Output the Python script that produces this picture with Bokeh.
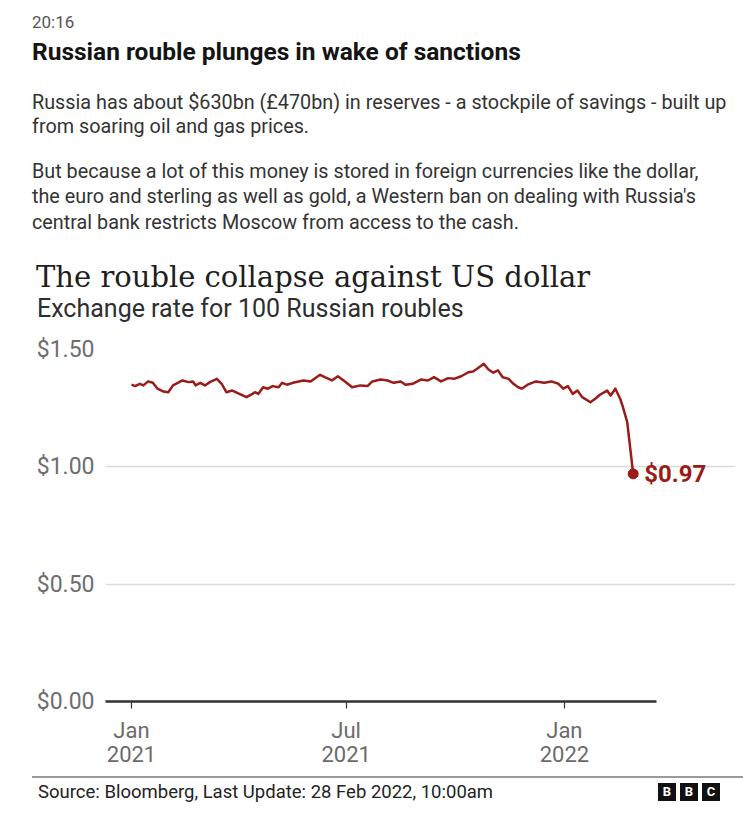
import pandas as pd
from bokeh.plotting import figure
from bokeh.models import Label, FixedTicker, NumeralTickFormatter, Div, Range1d, LinearAxis
from bokeh.layouts import column
from bokeh.embed import file_html
from bokeh.resources import INLINE

# ---------------- data ----------------
dates = [
    "2021-01-01", "2021-01-04", "2021-01-08", "2021-01-11", "2021-01-15", "2021-01-19",
    "2021-01-23", "2021-01-28", "2021-02-01", "2021-02-05", "2021-02-13", "2021-02-18",
    "2021-02-22", "2021-02-24", "2021-02-28", "2021-03-04", "2021-03-08", "2021-03-14",
    "2021-03-18", "2021-03-22", "2021-03-27", "2021-04-02", "2021-04-08", "2021-04-13",
    "2021-04-15", "2021-04-18", "2021-04-22", "2021-04-26", "2021-04-30", "2021-05-05",
    "2021-05-08", "2021-05-12", "2021-05-17", "2021-05-26", "2021-06-01", "2021-06-09",
    "2021-06-13", "2021-06-19", "2021-06-24", "2021-06-30", "2021-07-06", "2021-07-13",
    "2021-07-19", "2021-07-23", "2021-07-30", "2021-08-05", "2021-08-10", "2021-08-16",
    "2021-08-20", "2021-08-26", "2021-09-02", "2021-09-08", "2021-09-13", "2021-09-19",
    "2021-09-25", "2021-09-30", "2021-10-06", "2021-10-12", "2021-10-16", "2021-10-20",
    "2021-10-25", "2021-10-29", "2021-11-02", "2021-11-06", "2021-11-10", "2021-11-15",
    "2021-11-19", "2021-11-23", "2021-11-26", "2021-12-01", "2021-12-08", "2021-12-15",
    "2021-12-21", "2021-12-27", "2021-12-31", "2022-01-04", "2022-01-08", "2022-01-12",
    "2022-01-16", "2022-01-23", "2022-01-27", "2022-01-31", "2022-02-06", "2022-02-09",
    "2022-02-13", "2022-02-17", "2022-02-19", "2022-02-21", "2022-02-23", "2022-02-28",
]
rate_usd = [
    1.350, 1.344, 1.354, 1.347, 1.364, 1.358,
    1.333, 1.321, 1.318, 1.347, 1.368, 1.361,
    1.364, 1.347, 1.358, 1.347, 1.361, 1.375,
    1.354, 1.318, 1.325, 1.311, 1.297, 1.311,
    1.318, 1.311, 1.339, 1.333, 1.344, 1.339,
    1.358, 1.350, 1.358, 1.368, 1.364, 1.392,
    1.382, 1.368, 1.386, 1.364, 1.339, 1.347,
    1.344, 1.364, 1.372, 1.368, 1.358, 1.364,
    1.350, 1.354, 1.372, 1.368, 1.382, 1.364,
    1.378, 1.375, 1.386, 1.403, 1.406, 1.420,
    1.439, 1.415, 1.401, 1.411, 1.382, 1.375,
    1.354, 1.339, 1.333, 1.350, 1.364, 1.358,
    1.364, 1.354, 1.333, 1.344, 1.311, 1.325,
    1.297, 1.275, 1.290, 1.307, 1.325, 1.304,
    1.333, 1.290, 1.261, 1.226, 1.190, 0.970,
]
tick_dates = ["2021-01-01", "2021-07-01", "2022-01-01"]
tick_months = ["Jan", "Jul", "Jan"]
tick_years = ["2021", "2021", "2022"]
y_ticks = [0.0, 0.5, 1.0, 1.5]
last_label = "$0.97"

time_label = "20:16"
headline = "Russian rouble plunges in wake of sanctions"
para_lines = [
    "Russia has about $630bn (£470bn) in reserves - a stockpile of savings - built up",
    "from soaring oil and gas prices.",
    "But because a lot of this money is stored in foreign currencies like the dollar,",
    "the euro and sterling as well as gold, a Western ban on dealing with Russia's",
    "central bank restricts Moscow from access to the cash.",
]
chart_title = "The rouble collapse against US dollar"
chart_subtitle = "Exchange rate for 100 Russian roubles"
source_text = "Source: Bloomberg, Last Update: 28 Feb 2022, 10:00am"

# ---------------- derived ----------------
origin = pd.Timestamp("2021-01-01")
days = [(pd.Timestamp(d) - origin).days for d in dates]
tick_days = [(pd.Timestamp(d) - origin).days for d in tick_dates]

RED = "#9b1b17"
SANS = "Roboto"
PAGE_W = 743

# ---------------- header (HTML) ----------------
def hline(text, left, center, size, color, lh, weight=400, family=SANS):
    top = center - lh / 2
    return (f'<div style="position:absolute;left:{left}px;top:{top}px;line-height:{lh}px;'
            f'font-family:\'{family}\';font-size:{size}px;font-weight:{weight};color:{color};'
            f'white-space:nowrap;">{text}</div>')

HEADER_H = 330
hdr = [hline(time_label, 32, 22, 17, "#555555", 20),
       hline(headline, 32, 52, 24.5, "#141414", 30, weight=700)]
for t, c in zip(para_lines, [103, 127, 172, 197, 223]):
    hdr.append(hline(t, 32, c, 19.8, "#333333", 24))
hdr.append(hline(chart_title, 36, 277, 29, "#1e1e1e", 36, family="DejaVu Serif"))
hdr.append(hline(chart_subtitle, 37, 309, 25, "#2e2e2e", 30))
header = Div(width=PAGE_W, height=HEADER_H, margin=(0, 0, 0, 0),
             text=f'<div style="position:relative;width:{PAGE_W}px;height:{HEADER_H}px;">'
                  + "".join(hdr) + "</div>")

# ---------------- chart ----------------
FIG_TOP = HEADER_H
FRAME_L, FRAME_R, FRAME_T, FRAME_B = 105, 735, 349, 701
AXIS_END = 656
FIG_H = 438
PX_PER_DAY = 1.186
DAY0_PX = 131
X0 = (FRAME_L - DAY0_PX) / PX_PER_DAY
X1 = (FRAME_R - DAY0_PX) / PX_PER_DAY
XB = (AXIS_END - DAY0_PX) / PX_PER_DAY

p = figure(width=PAGE_W, height=FIG_H, output_backend="svg", toolbar_location=None,
           x_range=Range1d(X0, X1), y_range=Range1d(0, 1.5),
           min_border_left=FRAME_L, min_border_right=PAGE_W - FRAME_R,
           min_border_top=FRAME_T - FIG_TOP,
           min_border_bottom=FIG_TOP + FIG_H - FRAME_B)
p.outline_line_color = None
p.background_fill_color = "white"
p.border_fill_color = "white"

p.xaxis.ticker = FixedTicker(ticks=tick_days)
p.xaxis.major_label_overrides = dict(zip(tick_days, tick_months))
p.xaxis.bounds = (X0, XB)
p.xaxis.axis_line_color = "#333333"
p.xaxis.axis_line_width = 2.5
p.xaxis.major_tick_line_color = "#333333"
p.xaxis.major_tick_line_width = 1.2
p.xaxis.major_tick_out = 7
p.xaxis.major_tick_in = 0
p.xaxis.minor_tick_line_color = None
p.xaxis.major_label_text_font = SANS
p.xaxis.major_label_text_font_size = "22px"
p.xaxis.major_label_text_color = "#6b6b6b"
p.xaxis.major_label_standoff = 9

year_axis = LinearAxis(ticker=FixedTicker(ticks=tick_days),
                       major_label_overrides=dict(zip(tick_days, tick_years)),
                       axis_line_color=None, major_tick_line_color=None,
                       minor_tick_line_color=None, major_tick_out=0, major_tick_in=0,
                       major_label_text_font=SANS, major_label_text_font_size="22px",
                       major_label_text_color="#6b6b6b", major_label_standoff=0)
p.add_layout(year_axis, "below")

p.yaxis.ticker = FixedTicker(ticks=y_ticks)
p.yaxis.formatter = NumeralTickFormatter(format="$0.00")
p.yaxis.axis_line_color = None
p.yaxis.major_tick_line_color = None
p.yaxis.minor_tick_line_color = None
p.yaxis.major_tick_out = 0
p.yaxis.major_tick_in = 0
p.yaxis.major_label_text_font = SANS
p.yaxis.major_label_text_font_size = "23px"
p.yaxis.major_label_text_color = "#6e6e6e"
p.yaxis.major_label_standoff = 11

p.xgrid.visible = False
p.ygrid.ticker = FixedTicker(ticks=y_ticks)
p.ygrid.bounds = (X0, XB)
p.ygrid.grid_line_color = "#dadada"
p.ygrid.grid_line_width = 1.5

p.line(days, rate_usd, line_color=RED, line_width=2.5, line_join="round")
p.scatter([days[-1]], [rate_usd[-1]], size=10, color=RED)
p.add_layout(Label(x=days[-1], y=rate_usd[-1], x_offset=11, text=last_label,
                   text_font=SANS, text_font_style="bold", text_font_size="24px",
                   text_color=RED, text_baseline="middle", text_align="left"))

# ---------------- footer (HTML) ----------------
FOOT_H = 818 - FIG_TOP - FIG_H
logo = "".join(
    f'<span style="display:inline-block;width:18px;height:18px;background:#111;color:#fff;'
    f'font:bold 13px \'{SANS}\';line-height:18px;text-align:center;margin-left:4px;">{c}</span>'
    for c in "BBC")
footer = Div(width=PAGE_W, height=FOOT_H, margin=(0, 0, 0, 0), text=(
    f'<div style="position:relative;width:{PAGE_W}px;height:{FOOT_H}px;">'
    f'<div style="position:absolute;left:32px;top:{776 - FIG_TOP - FIG_H}px;width:{PAGE_W - 32}px;'
    f'height:0;border-top:2px solid #9a9a9a;"></div>'
    f'<div style="position:absolute;left:38px;top:{792 - 12 - FIG_TOP - FIG_H}px;line-height:24px;'
    f'font-family:\'{SANS}\';font-size:18.5px;color:#222;white-space:nowrap;">{source_text}</div>'
    f'<div style="position:absolute;left:654px;top:{783 - FIG_TOP - FIG_H}px;line-height:18px;">{logo}</div>'
    f'</div>'))

layout = column(header, p, footer, spacing=0)
open("out.html", "w").write(file_html(layout, INLINE))
